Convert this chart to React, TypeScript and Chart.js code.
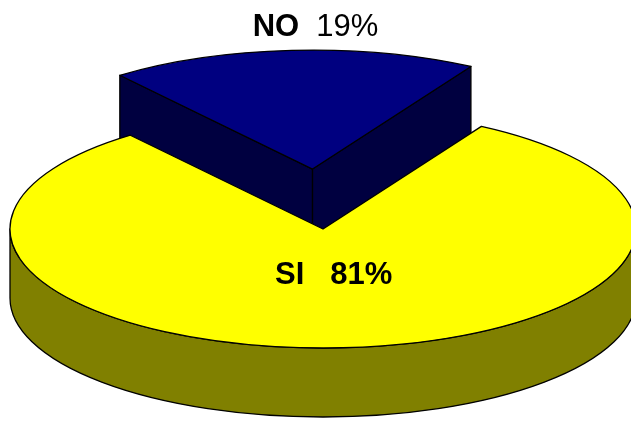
import { useEffect, useRef } from 'react';
import { Chart, registerables } from 'chart.js';

Chart.register(...registerables);

// ---- data ----
const categories = ['NO', 'SI'];
const values = [19, 81];
const percentLabels = ['19%', '81%'];

// ---- style ----
const topColors = ['#000080', '#FFFF00'];
const sideColors = ['#000040', '#808000'];
const explode = [158, 0];
const labelPlacement = ['outside', 'inside'];
const percentBold = [false, true];
const labelGaps = ['  ', '   '];

const FONT = '"Liberation Sans", Arial, Helvetica, sans-serif';
const TAU = Math.PI * 2;

function frontIntervals(s: number, e: number): [number, number][] {
  const out: [number, number][] = [];
  for (let n = Math.floor(s / TAU) - 1; n * TAU < e; n++) {
    const a0 = Math.max(s, n * TAU);
    const a1 = Math.min(e, n * TAU + Math.PI);
    if (a1 > a0) out.push([a0, a1]);
  }
  return out;
}

const pie3dPlugin = {
  id: 'pie3d',
  beforeDatasetsDraw(chart: any, _args: any, opts: any) {
    const ctx: CanvasRenderingContext2D = chart.ctx;
    const meta = chart.getDatasetMeta(0);
    const ds = chart.data.datasets[0];
    const k = opts.tilt;
    const depth = opts.depth;
    const slices = meta.data.map((el: any, i: number) => {
      const s = el.startAngle;
      const e = el.endAngle;
      const mid = (s + e) / 2;
      const off = el.options.offset || 0;
      return {
        i, s, e, mid,
        cx: el.x + Math.cos(mid) * off,
        cy: el.y + Math.sin(mid) * off * k,
        rx: el.outerRadius,
        ry: el.outerRadius * k,
      };
    });
    const order = [...slices].sort((a: any, b: any) => a.cy - b.cy || Math.sin(a.mid) - Math.sin(b.mid));

    ctx.save();
    ctx.lineWidth = opts.lineWidth;
    ctx.strokeStyle = opts.lineColor;
    ctx.lineJoin = 'round';

    for (const sl of order) {
      const top = ds.backgroundColor[sl.i];
      const side = opts.sideColors[sl.i];
      const walls: number[] = [];
      if (Math.cos(sl.s) < 0) walls.push(sl.s);
      if (Math.cos(sl.e) > 0) walls.push(sl.e);
      for (const a of walls) {
        const px = sl.cx + sl.rx * Math.cos(a);
        const py = sl.cy + sl.ry * Math.sin(a);
        ctx.beginPath();
        ctx.moveTo(sl.cx, sl.cy);
        ctx.lineTo(px, py);
        ctx.lineTo(px, py + depth);
        ctx.lineTo(sl.cx, sl.cy + depth);
        ctx.closePath();
        ctx.fillStyle = side;
        ctx.fill();
        ctx.stroke();
      }
      for (const [a0, a1] of frontIntervals(sl.s, sl.e)) {
        ctx.beginPath();
        ctx.ellipse(sl.cx, sl.cy, sl.rx, sl.ry, 0, a0, a1, false);
        ctx.ellipse(sl.cx, sl.cy + depth, sl.rx, sl.ry, 0, a1, a0, true);
        ctx.closePath();
        ctx.fillStyle = side;
        ctx.fill();
        ctx.stroke();
      }
      ctx.beginPath();
      ctx.moveTo(sl.cx, sl.cy);
      ctx.ellipse(sl.cx, sl.cy, sl.rx, sl.ry, 0, sl.s, sl.e, false);
      ctx.closePath();
      ctx.fillStyle = top;
      ctx.fill();
      ctx.stroke();
    }

    // labels
    const size = opts.fontSize;
    ctx.fillStyle = '#000000';
    ctx.textBaseline = 'alphabetic';
    ctx.textAlign = 'left';
    for (const sl of slices) {
      const parts = [
        { t: chart.data.labels[sl.i], bold: true },
        { t: opts.gaps[sl.i] + opts.percents[sl.i], bold: opts.percentBold[sl.i] },
      ];
      let x: number;
      let y: number;
      if (opts.placement[sl.i] === 'outside') {
        x = sl.cx + opts.labelDx;
        y = sl.cy - sl.ry - opts.outsideGap;
      } else {
        x = sl.cx + Math.cos(sl.mid) * sl.rx * opts.insideFrac + opts.labelDx;
        y = sl.cy + Math.sin(sl.mid) * sl.ry * opts.insideFrac + size * 0.36;
      }
      let total = 0;
      const widths = parts.map((p) => {
        ctx.font = `${p.bold ? 'bold ' : ''}${size}px ${FONT}`;
        const w = ctx.measureText(p.t).width;
        total += w;
        return w;
      });
      let cur = x - total / 2;
      parts.forEach((p, j) => {
        ctx.font = `${p.bold ? 'bold ' : ''}${size}px ${FONT}`;
        ctx.fillText(p.t, cur, y);
        cur += widths[j];
      });
    }
    ctx.restore();
    return false;
  },
};

export default function App() {
  const ref = useRef<HTMLCanvasElement | null>(null);
  useEffect(() => {
    if (!ref.current) return;
    const chart = new Chart(ref.current, {
      type: 'pie',
      data: {
        labels: categories,
        datasets: [
          {
            data: values,
            backgroundColor: topColors,
            borderColor: '#000000',
            borderWidth: 1,
            offset: explode,
            radius: 313,
          } as any,
        ],
      },
      options: {
        animation: false,
        responsive: false,
        rotation: -38,
        layout: { padding: { left: 15, top: 37, right: 0, bottom: 0 } },
        plugins: {
          legend: { display: false },
          tooltip: { enabled: false },
          pie3d: {
            tilt: 119 / 313,
            depth: 69,
            lineWidth: 1.3,
            lineColor: '#000000',
            sideColors,
            percents: percentLabels,
            percentBold,
            gaps: labelGaps,
            placement: labelPlacement,
            fontSize: 31,
            outsideGap: 14,
            labelDx: 3,
            insideFrac: 0.37,
          },
        } as any,
      },
      plugins: [pie3dPlugin as any],
    });
    return () => chart.destroy();
  }, []);
  return (
    <div style={{ position: 'absolute', left: 0, top: 0, width: 631, height: 421 }}>
      <canvas ref={ref} width={631} height={421} style={{ display: 'block' }} />
    </div>
  );
}
